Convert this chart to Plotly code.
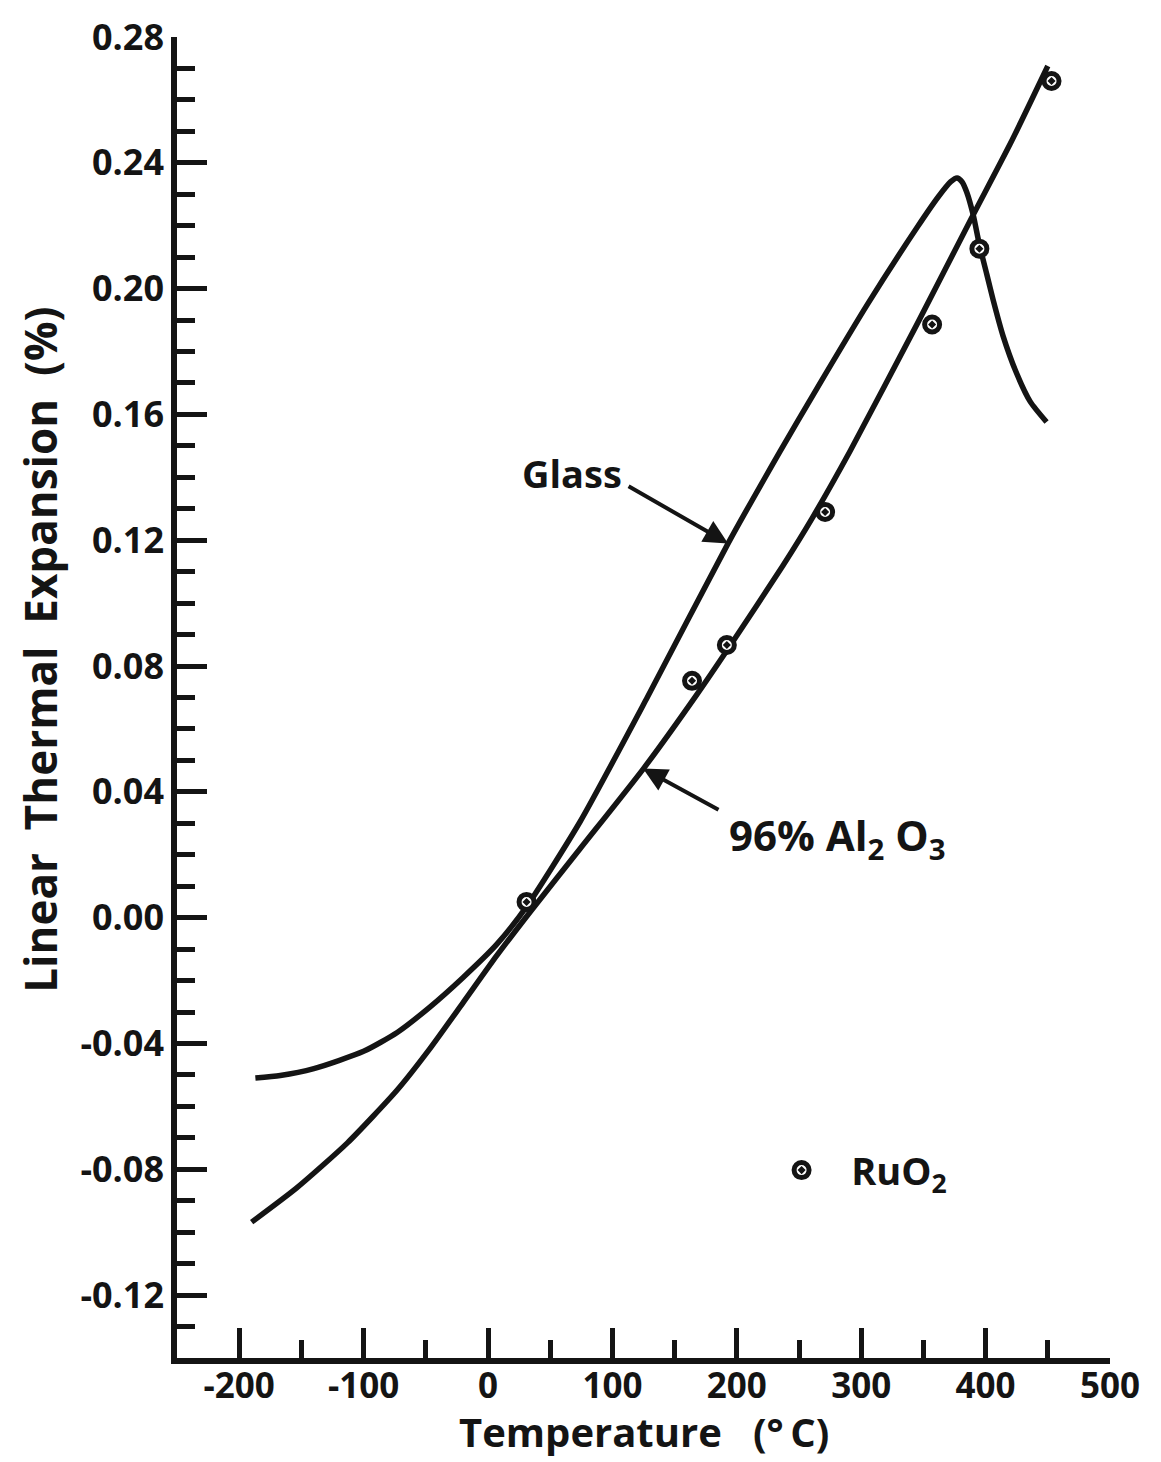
import plotly.graph_objects as go

# Linear thermal expansion (%) versus temperature (deg C)

# Glass (sealing glass) curve
glass_temp = [-187, -167, -140, -100, -73, -47, -20, 7, 31, 74, 128, 193, 235,
              264, 305, 345, 362, 372, 377, 381, 385, 390, 395, 401, 406, 414,
              425, 436, 449]
glass_exp = [-0.0510, -0.0502, -0.0480, -0.0425, -0.0365, -0.0285, -0.0190,
             -0.0085, 0.0035, 0.0305, 0.0700, 0.1190, 0.1484, 0.1680, 0.1950,
             0.2195, 0.2292, 0.2340, 0.2352, 0.2340, 0.2305, 0.2235, 0.2140,
             0.2045, 0.1965, 0.1850, 0.1730, 0.1640, 0.1576]

# 96% Al2O3 substrate curve
alumina_temp = [-190, -154, -113, -73, -47, -20, 7, 34, 74, 125, 168, 195, 237,
                261, 291, 345, 388, 420, 450]
alumina_exp = [-0.0968, -0.0860, -0.0716, -0.0548, -0.0418, -0.0270, -0.0121,
               0.0019, 0.0219, 0.0474, 0.0710, 0.0867, 0.1119, 0.1273, 0.1483,
               0.1888, 0.2219, 0.2462, 0.2708]

# RuO2 measured points
ruo2_temp = [31, 164, 192, 271, 357, 395, 453]
ruo2_exp = [0.005, 0.0753, 0.0867, 0.129, 0.1886, 0.2127, 0.266]

x_tick_vals = [-200, -100, 0, 100, 200, 300, 400, 500]
x_tick_text = ["-200", "-100", "0", "100", "200", "300", "400", "500"]
y_tick_vals = [-0.12, -0.08, -0.04, 0.00, 0.04, 0.08, 0.12, 0.16, 0.20, 0.24, 0.28]
y_tick_text = ["-0.12", "-0.08", "-0.04", "0.00", "0.04", "0.08", "0.12",
               "0.16", "0.20", "0.24", "0.28"]

INK = "#141414"
FONT = "Open Sans"
NB = "\u00a0"

fig = go.Figure()

fig.add_trace(go.Scatter(
    x=glass_temp, y=glass_exp, mode="lines", showlegend=False,
    line=dict(color=INK, width=5.5, shape="spline", smoothing=0.6),
))
fig.add_trace(go.Scatter(
    x=alumina_temp, y=alumina_exp, mode="lines", showlegend=False,
    line=dict(color=INK, width=5.5, shape="spline", smoothing=0.6),
))
fig.add_trace(go.Scatter(
    x=ruo2_temp, y=ruo2_exp, mode="markers",
    name=NB * 3 + "RuO<sub>2</sub>", showlegend=True,
    marker=dict(symbol="circle-dot", size=15, color="white",
                line=dict(color=INK, width=5)),
))

axis_common = dict(
    showline=True, linewidth=5.5, linecolor=INK, mirror=False,
    showgrid=False, zeroline=False,
    ticks="inside", ticklen=30, tickwidth=4.5, tickcolor=INK,
)

fig.update_xaxes(
    range=[-250, 500], tickmode="array", tickvals=x_tick_vals,
    ticktext=x_tick_text, ticklabelstandoff=-8,
    tickfont=dict(family=FONT, size=35, color=INK, weight="bold"),
    minor=dict(ticks="inside", dtick=50, tick0=0, ticklen=18, tickwidth=4.5,
               tickcolor=INK),
    **axis_common,
)
fig.update_yaxes(
    range=[-0.14, 0.28], tickmode="array", tickvals=y_tick_vals,
    ticktext=y_tick_text,
    tickfont=dict(family=FONT, size=36, color=INK, weight="bold"),
    minor=dict(ticks="inside", dtick=0.01, tick0=0, ticklen=18, tickwidth=4.5,
               tickcolor=INK),
    **axis_common,
)

label_font = dict(family=FONT, color=INK, weight="bold")

annotations = [
    # axis titles
    dict(text="Temperature" + NB * 3 + "(°\u2009C)", xref="paper", yref="paper",
         x=0.5, y=-0.056, showarrow=False, xanchor="center", yanchor="middle",
         font=dict(size=40, **label_font)),
    dict(text=("Linear" + NB * 2 + "Thermal" + NB * 2 + "Expansion" + NB * 2
               + "(%)"),
         xref="paper", yref="paper", x=-0.147, y=0.536, textangle=-90,
         showarrow=False, xanchor="center", yanchor="middle",
         font=dict(size=44, **label_font)),
    # curve labels
    dict(text="Glass", x=67.5, y=0.1415, showarrow=False,
         xanchor="center", yanchor="middle", font=dict(size=38, **label_font)),
    dict(text="96%" + NB + "Al<sub>2</sub>" + NB + "O<sub>3</sub>", x=192,
         y=0.0255, showarrow=False, xanchor="left", yanchor="middle",
         font=dict(size=42, **label_font)),
    # pointer arrows
    dict(text="", x=193, y=0.1190, ax=-101, ay=-58, showarrow=True,
         arrowhead=2, arrowsize=1.2, arrowwidth=4, arrowcolor=INK),
    dict(text="", x=124.6, y=0.0474, ax=77, ay=42, showarrow=True,
         arrowhead=2, arrowsize=1.2, arrowwidth=4, arrowcolor=INK),
]

fig.update_layout(
    width=1161, height=1462,
    margin=dict(l=177, r=51, t=31, b=104),
    paper_bgcolor="white", plot_bgcolor="white",
    annotations=annotations,
    legend=dict(x=0.648, y=0.142, xanchor="left", yanchor="middle",
                bgcolor="rgba(0,0,0,0)", borderwidth=0,
                font=dict(family=FONT, size=38, color=INK, weight="bold")),
)

fig.write_html("out.html")
